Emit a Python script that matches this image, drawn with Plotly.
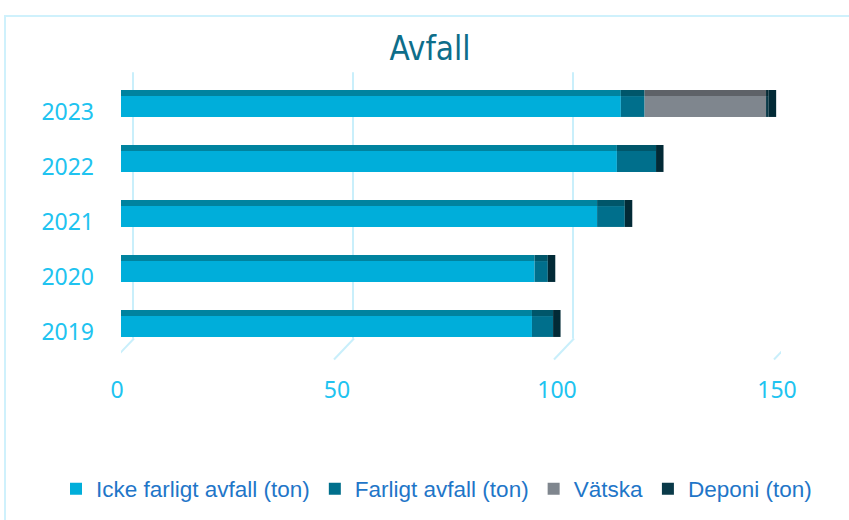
import plotly.graph_objects as go

# Data (tons)
years = ["2019", "2020", "2021", "2022", "2023"]
icke_farligt = [93.4, 94.0, 108.2, 112.7, 113.6]
farligt = [4.8, 3.0, 6.3, 8.9, 5.4]
vatska = [0, 0, 0, 0, 27.6]
deponi = [0, 0, 0, 0, 0.6]
x_ticks = [0, 50, 100, 150]

series = [
    ("Icke farligt avfall (ton)", icke_farligt, "#00AEDA", "#00839F"),
    ("Farligt avfall (ton)", farligt, "#006F8C", "#00566A"),
    ("Vätska", vatska, "#7F868E", "#5E6268"),
    ("Deponi (ton)", deponi, "#0A3A49", "#062A35"),
]

W, H = 849, 520
L, R, T, B = 121, 68, 79, 166
pw, ph = W - L - R, H - T - B

front_w = 0.38   # front face height in category units
top_w = 0.11     # top face depth
depth = 1.7      # side face depth in x units

fig = go.Figure()

base = [0.0] * len(years)
for name, vals, col, topcol in series:
    fig.add_trace(go.Bar(
        y=years, x=vals, base=list(base), orientation="h", name=name,
        marker=dict(color=col, line=dict(width=0)),
        width=front_w, offset=-front_w / 2,
    ))
    fig.add_trace(go.Bar(
        y=years, x=vals, base=list(base), orientation="h", showlegend=False,
        marker=dict(color=topcol, line=dict(width=0)),
        width=top_w, offset=front_w / 2, hoverinfo="skip",
    ))
    base = [b + v for b, v in zip(base, vals)]

# dark side face at the end of each stack
fig.add_trace(go.Bar(
    y=years, x=[depth] * len(years), base=base, orientation="h", showlegend=False,
    marker=dict(color="#022A36", line=dict(width=0)),
    width=front_w + top_w, offset=-front_w / 2, hoverinfo="skip",
))

grid = "#C9EFFB"
shapes = []
for v in x_ticks:
    # back wall gridline
    shapes.append(dict(type="line", xref="x", yref="paper", xsizemode="pixel",
                       xanchor=v, x0=12, x1=12, y0=15.5 / ph, y1=1.025,
                       line=dict(color=grid, width=2), layer="below"))
    # floor diagonal
    shapes.append(dict(type="line", xref="x", yref="paper", xsizemode="pixel",
                       xanchor=v, x0=13, x1=-7, y0=15.5 / ph, y1=-5.5 / ph,
                       line=dict(color=grid, width=2), layer="below"))

# outer chart border
shapes.append(dict(type="rect", xref="paper", yref="paper",
                   x0=(5 - L) / pw, x1=(W + 10 - L) / pw,
                   y0=(T + ph - (H + 10)) / ph, y1=(T + ph - 16) / ph,
                   line=dict(color="#CFF1FC", width=2), layer="below"))

tick_font = dict(family="Noto Sans, Liberation Sans, sans-serif", size=23, color="#20C3F0")

fig.update_layout(
    width=W, height=H,
    margin=dict(l=L, r=R, t=T, b=B, autoexpand=False),
    paper_bgcolor="white", plot_bgcolor="white",
    barmode="overlay",
    title=dict(text="Avfall", x=430 / W, xanchor="center", xref="container",
               y=1 - 48 / H, yanchor="middle",
               font=dict(family="DejaVu Sans Condensed, Liberation Sans, sans-serif",
                         size=33, color="#0E6E8A")),
    xaxis=dict(range=[0, 150], tickvals=x_ticks, showgrid=False, zeroline=False, showline=False,
               ticks="", tickfont=tick_font, ticklabelstandoff=20, ticklabelshift=-4,
               automargin=False),
    yaxis=dict(type="category", categoryorder="array", categoryarray=years, range=[-0.5, 4.5],
               showgrid=False, zeroline=False, showline=False, ticks="",
               tickfont=tick_font, ticklabelstandoff=26, ticklabelshift=5, automargin=False),
    legend=dict(orientation="h", x=(56 - L) / pw, xanchor="left",
                y=(T + ph - 489) / ph, yanchor="middle",
                font=dict(family="Liberation Sans, Arial, sans-serif",
                          size=22.5, color="#1F76C8"),
                traceorder="normal", itemwidth=30),
    shapes=shapes,
    showlegend=True,
)

fig.write_html("out.html", config={"displayModeBar": False},
               post_script="document.body.style.margin='0';")
